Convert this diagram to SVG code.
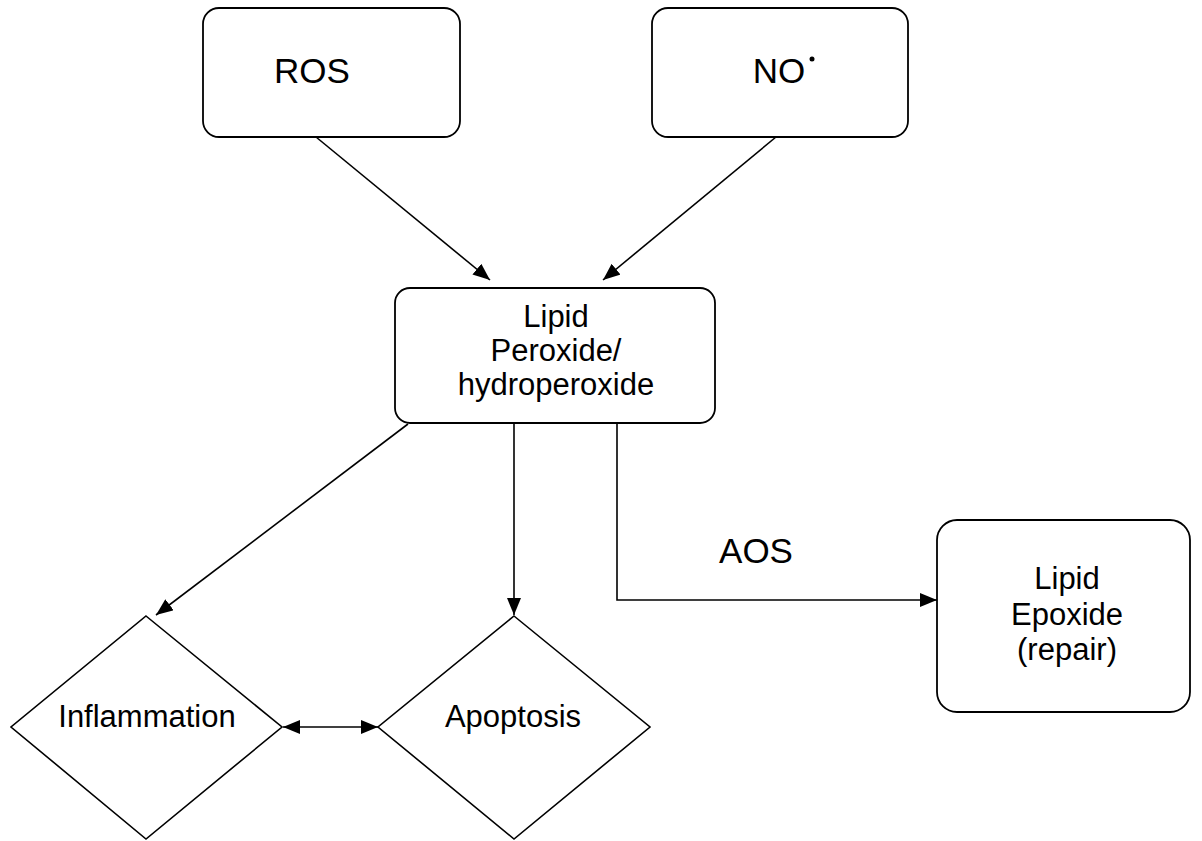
<svg xmlns="http://www.w3.org/2000/svg" width="1202" height="841" viewBox="0 0 1202 841">
<style>
  .box{fill:#fff;stroke:#000;stroke-width:1.8}
  .dia{fill:#fff;stroke:#000;stroke-width:1.6}
  .t{font-family:"Liberation Sans",Arial,sans-serif;fill:#000;text-anchor:middle}
  .big{font-size:35px}
  .mid{font-size:31px}
  .con{fill:none;stroke:#000;stroke-width:1.6}
</style>
<defs>
  <marker id="ah" markerUnits="userSpaceOnUse" markerWidth="18" markerHeight="14" refX="17" refY="7" orient="auto-start-reverse">
    <path d="M0,0 L17,7 L0,14 z" fill="#000"/>
  </marker>
</defs>
<rect width="1202" height="841" fill="#fff"/>
<g id="connectors">
  <line class="con" x1="316" y1="137" x2="490" y2="280" marker-end="url(#ah)"/>
  <line class="con" x1="776" y1="137" x2="603" y2="280" marker-end="url(#ah)"/>
  <line class="con" x1="408" y1="424" x2="156" y2="615" marker-end="url(#ah)"/>
  <line class="con" x1="514" y1="424" x2="514" y2="615" marker-end="url(#ah)"/>
  <polyline class="con" points="617,424 617,600 937,600" marker-end="url(#ah)"/>
  <line class="con" x1="283" y1="727" x2="378" y2="727" marker-start="url(#ah)" marker-end="url(#ah)"/>
  <text class="t big" x="756" y="563">AOS</text>
</g>
<g id="ros">
  <rect class="box" x="203" y="8" width="257" height="129" rx="16"/>
  <text class="t big" x="312" y="83">ROS</text>
</g>
<g id="no">
  <rect class="box" x="652" y="8" width="256" height="129" rx="16"/>
  <text class="t big" x="779" y="83">NO</text>
  <circle cx="812" cy="59" r="2.5" fill="#000"/>
</g>
<g id="lipid-peroxide">
  <rect class="box" x="395" y="288" width="320" height="135" rx="15"/>
  <text class="t mid" x="556" y="327">Lipid</text>
  <text class="t mid" x="556" y="361">Peroxide/</text>
  <text class="t mid" x="556" y="395">hydroperoxide</text>
</g>
<g id="lipid-epoxide">
  <rect class="box" x="937" y="520" width="253" height="192" rx="20"/>
  <text class="t mid" x="1067" y="589">Lipid</text>
  <text class="t mid" x="1067" y="625">Epoxide</text>
  <text class="t mid" x="1067" y="660">(repair)</text>
</g>
<g id="inflammation">
  <polygon class="dia" points="146,616 282,727 146,839 11,727"/>
  <text class="t mid" x="147" y="727">Inflammation</text>
</g>
<g id="apoptosis">
  <polygon class="dia" points="514,616 650,727 514,839 378,727"/>
  <text class="t mid" x="513" y="727">Apoptosis</text>
</g>
</svg>
